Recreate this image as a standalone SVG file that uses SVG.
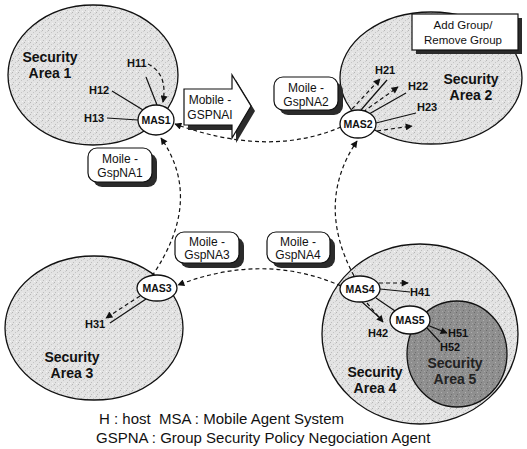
<svg xmlns="http://www.w3.org/2000/svg" width="527" height="449" viewBox="0 0 527 449">
<style>
text{font-family:"Liberation Sans",Arial,sans-serif;fill:#111}
.area{stroke:#111;stroke-width:1.3}
.lbl{font-size:14px;font-weight:bold}
.h{font-size:11px;font-weight:bold}
.mas{font-size:10.5px;font-weight:bold}
.box{font-size:12px}
.mas-e{fill:#fff;stroke:#111;stroke-width:1.3}
.dash{fill:none;stroke:#111;stroke-width:1.2;stroke-dasharray:4 3}
.solid{fill:none;stroke:#111;stroke-width:1.2}
.shadow{fill:#2b2b2b}
.card{fill:#fff;stroke:#111;stroke-width:1.2}
</style>
<defs>
<pattern id="lt" width="6" height="6" patternUnits="userSpaceOnUse">
<rect width="6" height="6" fill="#e3e3e3"/>
<rect x="0" y="0" width="1" height="1" fill="#b5b5b5"/>
<rect x="3" y="2" width="1" height="1" fill="#c4c4c4"/>
<rect x="1" y="4" width="1" height="1" fill="#bdbdbd"/>
<rect x="4" y="5" width="1" height="1" fill="#f5f5f5"/>
<rect x="5" y="1" width="1" height="1" fill="#cfcfcf"/>
</pattern>
<pattern id="dk" width="6" height="6" patternUnits="userSpaceOnUse">
<rect width="6" height="6" fill="#8f8f8f"/>
<rect x="0" y="0" width="1" height="1" fill="#6a6a6a"/>
<rect x="3" y="2" width="1" height="1" fill="#b0b0b0"/>
<rect x="1" y="4" width="1" height="1" fill="#707070"/>
<rect x="4" y="5" width="1" height="1" fill="#a5a5a5"/>
</pattern>
<marker id="ah" viewBox="0 0 10 10" refX="9" refY="5" markerWidth="8" markerHeight="7" markerUnits="userSpaceOnUse" orient="auto">
<path d="M0,0 L10,5 L0,10 Z" fill="#111"/>
</marker>
</defs>

<g id="area1">
<ellipse class="area" cx="93" cy="75" rx="85" ry="70" fill="url(#lt)"/>
<text class="lbl" x="50" y="62" text-anchor="middle">Security</text>
<text class="lbl" x="50" y="78" text-anchor="middle">Area 1</text>
</g>
<g id="area2">
<ellipse class="area" cx="431" cy="78" rx="91" ry="66" fill="url(#lt)"/>
<text class="lbl" x="471" y="84" text-anchor="middle">Security</text>
<text class="lbl" x="471" y="100" text-anchor="middle">Area 2</text>
</g>
<g id="area3">
<ellipse class="area" cx="94" cy="328" rx="89" ry="72" fill="url(#lt)"/>
<text class="lbl" x="72" y="362" text-anchor="middle">Security</text>
<text class="lbl" x="72" y="378" text-anchor="middle">Area 3</text>
</g>
<g id="area4">
<ellipse class="area" cx="420" cy="334" rx="98" ry="90" fill="url(#lt)"/>
<text class="lbl" x="375" y="377" text-anchor="middle">Security</text>
<text class="lbl" x="375" y="393" text-anchor="middle">Area 4</text>
</g>
<g id="area5">
<ellipse class="area" cx="457" cy="354" rx="50" ry="53" fill="url(#dk)"/>
<text class="lbl" x="455" y="368" text-anchor="middle" style="fill:#222">Security</text>
<text class="lbl" x="455" y="384" text-anchor="middle" style="fill:#222">Area 5</text>
</g>

<g id="connectors">
<path class="dash" d="M341,127 Q269,158 175,124" marker-end="url(#ah)"/>
<path class="dash" d="M152,276 Q204,200 161,138" marker-end="url(#ah)"/>
<path class="dash" d="M354,276 Q315,203 357,141" marker-end="url(#ah)"/>
<path class="dash" d="M341,286 Q264,252 178,285" marker-end="url(#ah)"/>
<path class="dash" d="M148,64 Q168,74 163,102" marker-end="url(#ah)"/>
<line class="solid" x1="146" y1="77" x2="157" y2="105"/>
<line class="solid" x1="112" y1="91" x2="143" y2="110"/>
<line class="solid" x1="107" y1="118" x2="138" y2="120"/>
<line class="solid" x1="361" y1="110" x2="387" y2="80"/>
<line class="dash" x1="352" y1="109" x2="380" y2="79" marker-end="url(#ah)"/>
<line class="solid" x1="369" y1="114" x2="406" y2="93"/>
<line class="dash" x1="363" y1="112" x2="398" y2="87" marker-end="url(#ah)"/>
<line class="solid" x1="376" y1="123" x2="416" y2="113"/>
<line class="dash" x1="377" y1="131" x2="412" y2="126" marker-end="url(#ah)"/>
<line class="solid" x1="146" y1="299" x2="110" y2="323"/>
<line class="dash" x1="140" y1="296" x2="106" y2="318" marker-end="url(#ah)"/>
<line class="solid" x1="380" y1="289" x2="410" y2="292"/>
<line class="dash" x1="379" y1="283" x2="408" y2="283" marker-end="url(#ah)"/>
<line class="solid" x1="376" y1="298" x2="398" y2="313"/>
<line class="solid" x1="362" y1="302" x2="380" y2="318"/>
<line class="dash" x1="367" y1="303" x2="383" y2="322" marker-end="url(#ah)"/>
<line class="solid" x1="427" y1="325" x2="447" y2="333" marker-end="url(#ah)"/>
<line class="solid" x1="427" y1="328" x2="440" y2="342"/>
</g>

<g id="H11"><text class="h" x="127" y="67">H11</text></g>
<g id="H12"><text class="h" x="89" y="94">H12</text></g>
<g id="H13"><text class="h" x="84" y="122">H13</text></g>
<g id="H21"><text class="h" x="375" y="74">H21</text></g>
<g id="H22"><text class="h" x="408" y="90">H22</text></g>
<g id="H23"><text class="h" x="417" y="111">H23</text></g>
<g id="H31"><text class="h" x="85" y="328">H31</text></g>
<g id="H41"><text class="h" x="410" y="296">H41</text></g>
<g id="H42"><text class="h" x="368" y="337">H42</text></g>
<g id="H51"><text class="h" x="448" y="337">H51</text></g>
<g id="H52"><text class="h" x="440" y="351">H52</text></g>

<g id="MAS1"><ellipse class="mas-e" cx="156" cy="120" rx="18" ry="15"/><text class="mas" x="156" y="124" text-anchor="middle">MAS1</text></g>
<g id="MAS2"><ellipse class="mas-e" cx="358" cy="124" rx="18" ry="14"/><text class="mas" x="358" y="128" text-anchor="middle">MAS2</text></g>
<g id="MAS3"><ellipse class="mas-e" cx="157" cy="288" rx="20" ry="13"/><text class="mas" x="157" y="292" text-anchor="middle">MAS3</text></g>
<g id="MAS4"><ellipse class="mas-e" cx="360" cy="289" rx="20" ry="13"/><text class="mas" x="360" y="293" text-anchor="middle">MAS4</text></g>
<g id="MAS5"><ellipse class="mas-e" cx="410" cy="320" rx="20" ry="14"/><text class="mas" x="410" y="324" text-anchor="middle">MAS5</text></g>

<g id="mobile-gspnai">
<path class="shadow" d="M188,94 L236,94 L236,80 L255,111 L236,143 L236,130 L188,130 Z"/>
<path class="card" d="M184,89 L232,89 L232,75 L251,106 L232,138 L232,125 L184,125 Z"/>
<text class="box" x="210" y="104" text-anchor="middle">Mobile -</text>
<text class="box" x="210" y="119" text-anchor="middle">GSPNAI</text>
</g>
<g id="gspna1">
<rect class="shadow" x="93" y="153" width="64" height="34" rx="9"/>
<rect class="card" x="88" y="148" width="64" height="34" rx="9"/>
<text class="box" x="120" y="163" text-anchor="middle">Moile -</text>
<text class="box" x="120" y="177" text-anchor="middle">GspNA1</text>
</g>
<g id="gspna2">
<rect class="shadow" x="279" y="82" width="64" height="33" rx="9"/>
<rect class="card" x="274" y="77" width="64" height="33" rx="9"/>
<text class="box" x="306" y="92" text-anchor="middle">Moile -</text>
<text class="box" x="306" y="106" text-anchor="middle">GspNA2</text>
</g>
<g id="gspna3">
<rect class="shadow" x="180" y="237" width="64" height="31" rx="9"/>
<rect class="card" x="175" y="232" width="64" height="31" rx="9"/>
<text class="box" x="207" y="246" text-anchor="middle">Moile -</text>
<text class="box" x="207" y="259" text-anchor="middle">GspNA3</text>
</g>
<g id="gspna4">
<rect class="shadow" x="272" y="237" width="63" height="31" rx="9"/>
<rect class="card" x="267" y="232" width="63" height="31" rx="9"/>
<text class="box" x="298" y="246" text-anchor="middle">Moile -</text>
<text class="box" x="298" y="259" text-anchor="middle">GspNA4</text>
</g>
<g id="add-group">
<rect class="shadow" x="416" y="18" width="106" height="36"/>
<rect class="card" x="412" y="14" width="106" height="36"/>
<text class="box" x="463" y="29" text-anchor="middle" style="font-size:11.5px">Add Group/</text>
<text class="box" x="463" y="44" text-anchor="middle" style="font-size:11.5px">Remove Group</text>
</g>

<g id="legend">
<text x="99" y="424" style="font-size:15px" xml:space="preserve">H : host  MSA : Mobile Agent System</text>
<text x="96" y="443" style="font-size:15px">GSPNA : Group Security Policy Negociation Agent</text>
</g>
</svg>
